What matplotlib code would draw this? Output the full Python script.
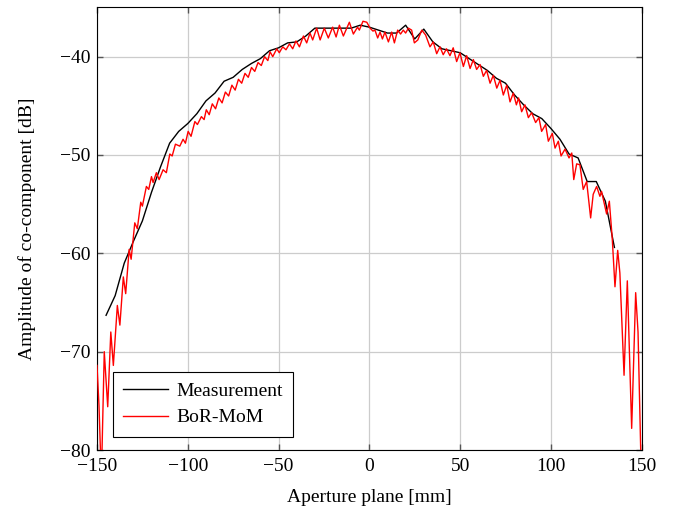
import matplotlib
matplotlib.use("Agg")
from matplotlib import pyplot as plt

plt.rcParams['font.family'] = ['Liberation Serif', 'DejaVu Serif']
plt.rcParams['mathtext.fontset'] = 'stix'
plt.rcParams['axes.unicode_minus'] = True

# measurement, sampled every 5 mm
meas_x = list(range(-145, 140, 5))
meas_y = [-66.3, -64.3, -61.0, -58.8, -56.7, -53.8, -51.2, -48.8, -47.6, -46.8,
          -45.8, -44.5, -43.7, -42.5, -42.1, -41.3, -40.7, -40.2, -39.4, -39.1,
          -38.6, -38.5, -37.9, -37.1, -37.1, -37.1, -37.1, -37.1, -36.8, -37.0,
          -37.3, -37.6, -37.6, -36.8, -38.2, -37.2, -38.5, -39.2, -39.4, -39.6,
          -40.2, -40.8, -41.4, -42.2, -42.7, -43.9, -44.9, -45.8, -46.3, -47.3,
          -48.4, -49.9, -50.3, -52.7, -52.7, -54.7, -59.4]

# BoR-MoM simulation (peaks and dips)
sim_x = [-150.0, -148.9, -147.6, -146.0, -144.1, -142.4, -141.0, -138.8, -137.4, -135.5,
         -134.2, -132.3, -131.2, -129.2, -127.8, -125.9, -125.0, -122.8, -121.5, -120.0,
         -119.1, -117.3, -115.8, -113.6, -111.8, -109.9, -108.6, -106.8, -104.4, -102.6,
         -101.3, -99.8, -98.2, -96.1, -94.7, -92.5, -91.0, -89.8, -88.2, -86.5,
         -84.7, -82.9, -81.1, -79.3, -77.5, -75.7, -73.9, -72.1, -70.3, -68.5,
         -66.7, -64.9, -63.1, -61.3, -59.5, -57.7, -55.9, -54.7, -53.2, -51.0,
         -49.6, -47.7, -45.9, -44.0, -42.2, -40.4, -38.5, -36.3, -34.5, -32.7,
         -31.2, -29.0, -27.1, -24.8, -22.6, -20.2, -18.3, -16.5, -14.3, -11.0,
         -8.8, -6.5, -5.5, -3.5, -1.4, 0.4, 2.0, 3.1, 4.6, 5.9,
         7.2, 8.6, 10.5, 12.3, 13.8, 15.6, 17.2, 18.7, 20.0, 21.5,
         23.3, 24.8, 26.7, 28.9, 31.0, 33.4, 35.2, 37.1, 38.9, 40.7,
         42.5, 44.4, 46.2, 48.1, 49.9, 51.8, 53.6, 55.5, 57.3, 59.1,
         61.0, 62.8, 64.6, 66.5, 68.3, 70.2, 72.0, 73.8, 75.7, 77.5,
         79.3, 81.0, 82.2, 83.9, 85.7, 87.6, 89.4, 91.6, 93.4, 94.9,
         97.1, 98.6, 100.8, 102.3, 104.1, 105.6, 107.8, 110.0, 111.5, 112.6,
         114.2, 116.0, 117.8, 119.7, 121.9, 123.3, 125.2, 127.0, 127.9, 130.7,
         132.2, 133.8, 135.3, 136.8, 138.0, 140.3, 142.1, 144.5, 146.7, 148.0,
         149.6]
sim_y = [-71.4, -75.5, -83.0, -70.0, -75.6, -68.0, -71.4, -65.3, -67.3, -62.4,
         -64.1, -59.6, -60.6, -56.9, -57.5, -54.8, -55.2, -53.2, -53.5, -52.2,
         -52.8, -51.8, -52.5, -51.5, -51.8, -49.9, -50.1, -48.9, -49.1, -48.4,
         -48.8, -47.6, -48.1, -46.6, -46.9, -46.1, -46.4, -45.4, -45.9, -44.8,
         -45.3, -44.2, -44.7, -43.6, -44.0, -42.9, -43.4, -42.3, -42.7, -41.7,
         -42.1, -41.1, -41.5, -40.6, -40.9, -40.0, -40.4, -39.5, -40.0, -39.2,
         -39.6, -39.0, -39.3, -38.7, -39.2, -38.4, -39.0, -37.9, -38.6, -37.6,
         -38.3, -37.1, -38.3, -37.1, -38.1, -37.0, -38.0, -36.8, -37.9, -36.5,
         -37.7, -37.0, -37.3, -36.4, -36.5, -37.1, -37.4, -37.3, -38.1, -37.5,
         -38.2, -37.5, -38.5, -37.5, -38.6, -37.3, -37.7, -37.3, -37.6, -37.1,
         -37.3, -38.6, -38.3, -37.3, -37.8, -39.0, -38.5, -39.7, -39.0, -39.8,
         -39.2, -39.9, -39.1, -40.5, -39.6, -41.0, -39.9, -41.2, -40.3, -41.3,
         -40.8, -42.0, -41.4, -42.7, -41.9, -43.2, -42.4, -43.9, -42.9, -44.6,
         -43.7, -44.9, -44.2, -45.6, -44.9, -46.2, -45.7, -46.7, -46.2, -47.6,
         -46.9, -48.6, -47.8, -49.3, -48.6, -50.1, -49.4, -50.3, -49.8, -52.5,
         -50.9, -51.0, -53.5, -52.7, -56.4, -54.0, -53.2, -54.2, -53.7, -56.0,
         -54.7, -58.5, -63.4, -59.7, -62.0, -72.4, -62.8, -77.8, -64.0, -68.0,
         -81.0]

fig = plt.figure(figsize=(6.76, 5.13), dpi=100)
ax = fig.add_axes([0.1435, 0.1228, 0.8057, 0.8626])

ax.plot(meas_x, meas_y, color='black', lw=1.0, label='Measurement', zorder=3)
ax.plot(sim_x, sim_y, color='red', lw=1.0, label='BoR-MoM', zorder=4)

ax.set_xlim(-150, 150)
ax.set_ylim(-80, -35)
ax.set_xticks([-150, -100, -50, 0, 50, 100, 150])
ax.set_yticks([-80, -70, -60, -50, -40])
ax.grid(True, color='#cccccc', lw=0.9)
ax.set_axisbelow(True)
ax.tick_params(direction='in', top=True, right=True, length=4, width=1.0,
               color='#555555', labelsize=14)
ax.tick_params(axis='x', pad=6)
ax.tick_params(axis='y', pad=5)
for sp in ax.spines.values():
    sp.set_linewidth(0.8)

ax.set_xlabel('Aperture plane [mm]', fontsize=14, labelpad=10)
ax.set_ylabel('Amplitude of co-component [dB]', fontsize=14, labelpad=17)

leg = ax.legend(loc='lower left', bbox_to_anchor=(0.029, 0.029), borderaxespad=0,
                fancybox=False, framealpha=1, edgecolor='black', fontsize=14,
                handlelength=2.3, handletextpad=0.4, borderpad=0.55,
                labelspacing=0.45)
leg.get_frame().set_linewidth(0.8)

fig.savefig('out.png', dpi=100)
